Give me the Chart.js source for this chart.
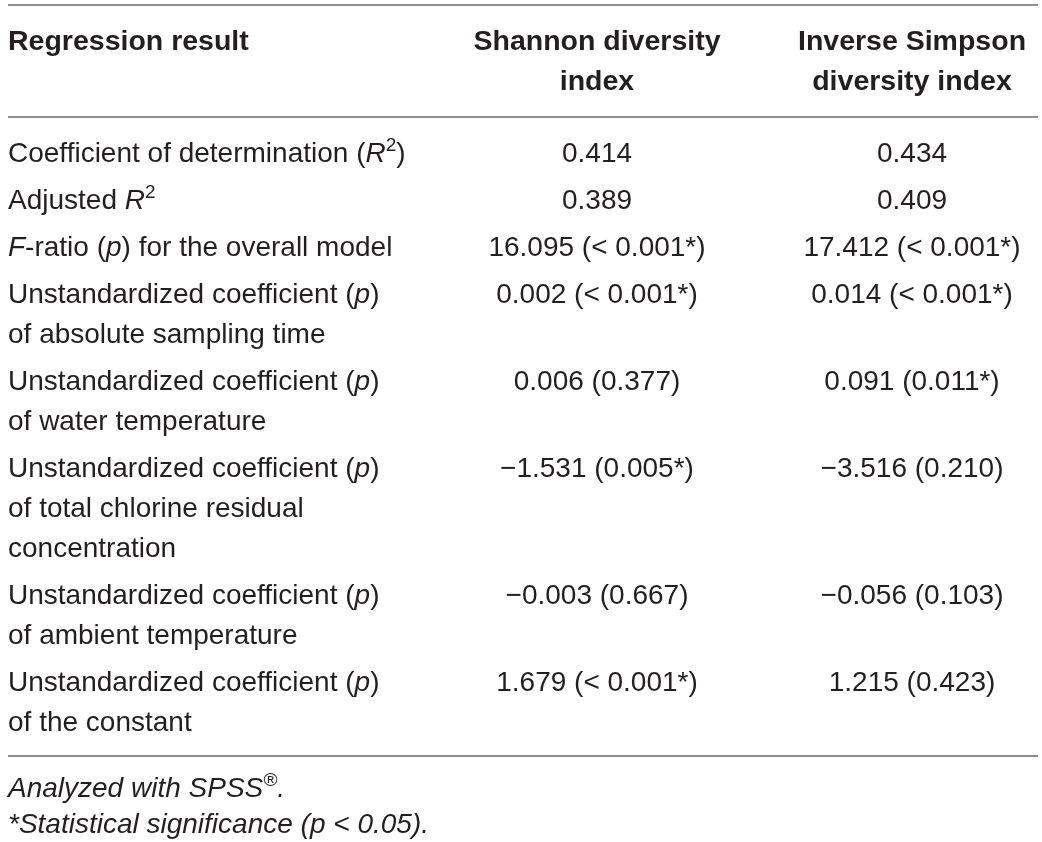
<!DOCTYPE html>
<html>
<head>
<meta charset="utf-8">
<script src="https://cdn.jsdelivr.net/npm/chart.js@4.4.1/dist/chart.umd.min.js"></script>
<style>
    html, body { margin: 0; padding: 0; background: #fff; }
    .tableChart { width: 1042px; height: 842px; }
</style>
</head>
<body>
<div class="tableChart">
    <canvas id="tableCanvas" width="1042" height="842"></canvas>
</div>
<script>
// _x_ = italic, ^x^ = superscript
const headers = [
    ["Regression result"],
    ["Shannon diversity", "index"],
    ["Inverse Simpson", "diversity index"]
];

const rowLabels = [
    ["Coefficient of determination (_R_^2^)"],
    ["Adjusted _R_^2^"],
    ["_F_-ratio (_p_) for the overall model"],
    ["Unstandardized coefficient (_p_)", "of absolute sampling time"],
    ["Unstandardized coefficient (_p_)", "of water temperature"],
    ["Unstandardized coefficient (_p_)", "of total chlorine residual", "concentration"],
    ["Unstandardized coefficient (_p_)", "of ambient temperature"],
    ["Unstandardized coefficient (_p_)", "of the constant"]
];

const shannonCoef = [0.414, 0.389, 16.095, 0.002, 0.006, -1.531, -0.003, 1.679];
const shannonP = ["", "", "< 0.001*", "< 0.001*", "0.377", "0.005*", "0.667", "< 0.001*"];

const simpsonCoef = [0.434, 0.409, 17.412, 0.014, 0.091, -3.516, -0.056, 1.215];
const simpsonP = ["", "", "< 0.001*", "< 0.001*", "0.011*", "0.210", "0.103", "0.423"];

const footnotes = [
    "_Analyzed with SPSS^®^._",
    "_*Statistical significance (p < 0.05)._"
];

// page geometry (pixels)
const layout = {
    left: 8, right: 1038, col2: 597, col3: 912,
    topRule: 5, headRule: 117, bottomRule: 756,
    headY: 42, headStep: 40,
    bodyY: 154, lineStep: 40, rowStep: 47,
    footY: 789, footStep: 36,
    fontSize: 28, headSize: 28.5
};

const FONT = '"Liberation Sans", Arial, Helvetica, sans-serif';
const TEXT_COLOR = '#231f20';
const RULE_COLOR = '#8f8f8f';

function formatCell(coef, p) {
    let s = (coef < 0 ? '\u2212' : '') + Math.abs(coef).toFixed(3);
    if (p) s += ' (' + p + ')';
    return s;
}

// y of first line of each body row
const rowY = [];
let y = layout.bodyY;
rowLabels.forEach(lines => {
    rowY.push(y);
    y += layout.rowStep + (lines.length - 1) * layout.lineStep;
});

const headerCells = [];
headers.forEach((lines, c) => {
    const x = [layout.left, layout.col2, layout.col3][c];
    lines.forEach((t, i) => headerCells.push({ x: x, y: layout.headY + i * layout.headStep, text: t, align: c === 0 ? 'left' : 'center', bold: true }));
});

const labelCells = [];
rowLabels.forEach((lines, r) => {
    lines.forEach((t, i) => labelCells.push({ x: layout.left, y: rowY[r] + i * layout.lineStep, text: t, align: 'left' }));
});

const shannonCells = shannonCoef.map((v, r) => ({ x: layout.col2, y: rowY[r], text: formatCell(v, shannonP[r]), align: 'center' }));
const simpsonCells = simpsonCoef.map((v, r) => ({ x: layout.col3, y: rowY[r], text: formatCell(v, simpsonP[r]), align: 'center' }));
const footCells = footnotes.map((t, i) => ({ x: layout.left, y: layout.footY + i * layout.footStep, text: t, align: 'left' }));

function rule(yy) {
    return {
        type: 'line',
        data: [{ x: layout.left, y: yy }, { x: layout.right, y: yy }],
        borderColor: RULE_COLOR,
        borderWidth: 2,
        pointRadius: 0
    };
}

function textSet(cells) {
    return { type: 'scatter', data: cells, pointRadius: 0, pointHoverRadius: 0, isText: true };
}

// parse "_italic_" and "^sup^" markup into runs
function parseRich(text) {
    const runs = [];
    let italic = false, sup = false, buf = '';
    const flush = () => { if (buf) runs.push({ t: buf, italic: italic, sup: sup }); buf = ''; };
    for (const ch of text) {
        if (ch === '_') { flush(); italic = !italic; }
        else if (ch === '^') { flush(); sup = !sup; }
        else buf += ch;
    }
    flush();
    return runs;
}

function runFont(run, bold, size) {
    const s = run.sup ? Math.round(size * 0.68) : size;
    return (run.italic ? 'italic ' : '') + (bold ? 'bold ' : '') + s + 'px ' + FONT;
}

const tableText = {
    id: 'tableText',
    afterDatasetsDraw(chart) {
        const ctx = chart.ctx;
        ctx.save();
        ctx.fillStyle = TEXT_COLOR;
        ctx.textBaseline = 'middle';
        ctx.textAlign = 'left';
        chart.data.datasets.forEach((ds, d) => {
            if (!ds.isText) return;
            const meta = chart.getDatasetMeta(d);
            meta.data.forEach((el, i) => {
                const cell = ds.data[i];
                const size = cell.bold ? layout.headSize : layout.fontSize;
                const runs = parseRich(cell.text);
                let width = 0;
                runs.forEach(r => { ctx.font = runFont(r, cell.bold, size); r.w = ctx.measureText(r.t).width; width += r.w; });
                let x = cell.align === 'center' ? el.x - width / 2 : el.x;
                runs.forEach(r => {
                    ctx.font = runFont(r, cell.bold, size);
                    ctx.fillText(r.t, x, r.sup ? el.y - size * 0.3 : el.y);
                    x += r.w;
                });
            });
        });
        ctx.restore();
    }
};

new Chart(document.getElementById('tableCanvas'), {
    type: 'scatter',
    data: {
        datasets: [
            rule(layout.topRule),
            rule(layout.headRule),
            rule(layout.bottomRule),
            textSet(headerCells),
            textSet(labelCells),
            textSet(shannonCells),
            textSet(simpsonCells),
            textSet(footCells)
        ]
    },
    options: {
        responsive: false,
        animation: false,
        events: [],
        layout: { padding: 0 },
        scales: {
            x: { type: 'linear', min: 0, max: 1042, display: false },
            y: { type: 'linear', min: 0, max: 842, reverse: true, display: false }
        },
        plugins: {
            legend: { display: false },
            tooltip: { enabled: false }
        }
    },
    plugins: [tableText]
});
</script>
</body>
</html>
